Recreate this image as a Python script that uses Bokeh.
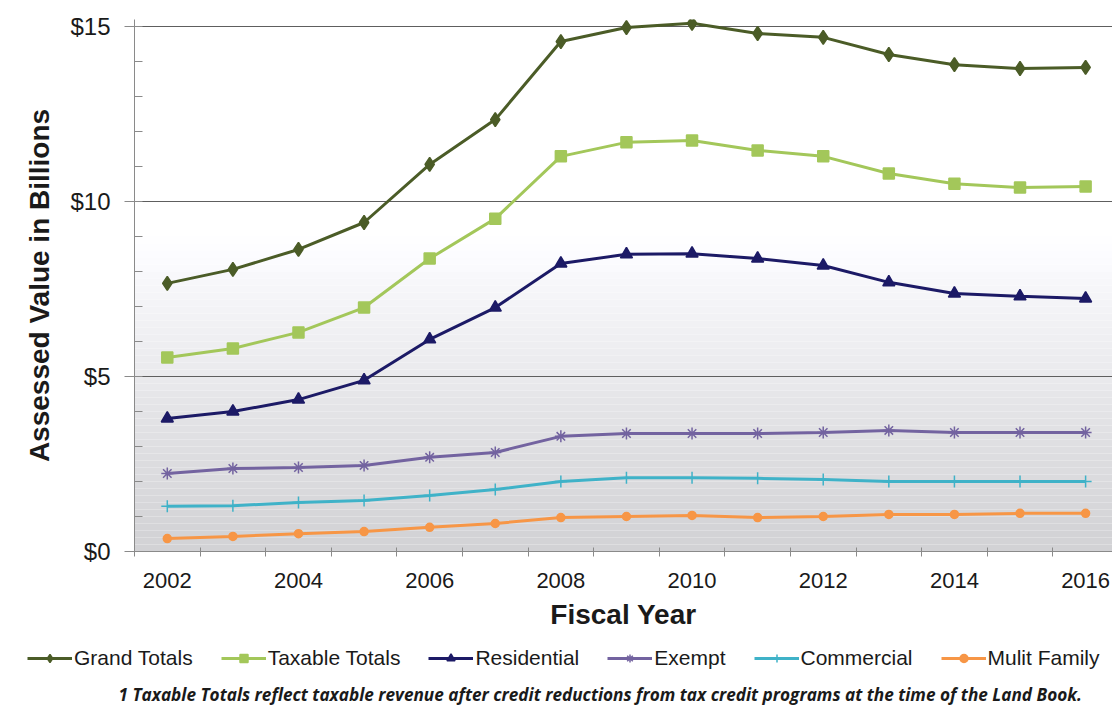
from bokeh.plotting import figure
from bokeh.layouts import column, row
from bokeh.models import (Range1d, FixedTicker, PrintfTickFormatter, Legend, LegendItem, Title)
from bokeh.embed import file_html
from bokeh.resources import INLINE

years = list(range(2002, 2017))
grand_totals = [7.66, 8.06, 8.63, 9.40, 11.06, 12.34, 14.57, 14.97, 15.09, 14.80, 14.69, 14.20, 13.91, 13.80, 13.83]
taxable_totals = [5.54, 5.80, 6.26, 6.97, 8.37, 9.51, 11.29, 11.69, 11.74, 11.46, 11.29, 10.80, 10.51, 10.40, 10.43]
residential = [3.80, 4.00, 4.34, 4.89, 6.06, 6.97, 8.23, 8.49, 8.51, 8.37, 8.17, 7.69, 7.37, 7.29, 7.23]
exempt = [2.23, 2.37, 2.40, 2.46, 2.69, 2.83, 3.29, 3.37, 3.37, 3.37, 3.40, 3.46, 3.40, 3.40, 3.40]
commercial = [1.29, 1.31, 1.40, 1.46, 1.60, 1.77, 2.00, 2.11, 2.11, 2.09, 2.06, 2.00, 2.00, 2.00, 2.00]
multi_family = [0.37, 0.43, 0.51, 0.57, 0.69, 0.80, 0.97, 1.00, 1.03, 0.97, 1.00, 1.06, 1.06, 1.09, 1.09]
series_names = ["Grand Totals", "Taxable Totals", "Residential", "Exempt", "Commercial", "Mulit Family"]
year_tick_labels = [2002, 2004, 2006, 2008, 2010, 2012, 2014, 2016]
value_ticks = [0, 5, 10, 15]
footnote = "1 Taxable Totals reflect taxable revenue after credit reductions from tax credit programs at the time of the Land Book."

FONT = "Liberation Sans"
W = 1112

p = figure(width=W, height=639, output_backend="svg", toolbar_location=None,
           x_range=Range1d(2001.5, 2016.41), y_range=Range1d(0, 15.2),
           min_border_left=134, min_border_top=19, min_border_right=0, min_border_bottom=88)
p.outline_line_color = None
p.background_fill_color = "white"

# background gradient (style only)
n_bands = 45
for i in range(n_bands):
    b = 9.0 * i / n_bands
    t = 9.0 * (i + 1) / n_bands
    f = (b + t) / 2 / 9.0
    g = int(210 + (255 - 210) * f ** 1.1)
    col = "#%02x%02x%02x" % (g, g, min(255, g + 3))
    p.quad(left=2001.5, right=2016.5, bottom=b, top=t, fill_color=col, line_color=None, level="image")

# axes
p.xaxis.ticker = FixedTicker(ticks=year_tick_labels, minor_ticks=[y - 0.5 for y in years] + [2016.5])
p.yaxis.ticker = FixedTicker(ticks=value_ticks, minor_ticks=list(range(0, 16)))
p.yaxis.formatter = PrintfTickFormatter(format="$%d")
for ax in (p.xaxis, p.yaxis):
    ax.axis_line_color = "#8a8a8a"
    ax.major_tick_line_color = "#8a8a8a"
    ax.minor_tick_line_color = "#8a8a8a"
    ax.major_label_text_font = FONT
    ax.major_label_text_color = "#1a1a1a"
    ax.axis_label_text_font = FONT
    ax.axis_label_text_font_style = "bold"
    ax.axis_label_text_color = "#1a1a1a"
    ax.axis_label_text_font_size = "28px"

p.xaxis.major_tick_in = 0
p.xaxis.major_tick_out = 0
p.xaxis.minor_tick_in = 4
p.xaxis.minor_tick_out = 5
p.xaxis.major_label_text_font_size = "22px"
p.xaxis.major_label_standoff = 16
p.xaxis.axis_label = "Fiscal Year"
p.xaxis.axis_label_standoff = 8

p.yaxis.major_tick_in = 0
p.yaxis.major_tick_out = 10
p.yaxis.minor_tick_in = 8
p.yaxis.minor_tick_out = 0
p.yaxis.major_label_text_font_size = "24px"
p.yaxis.major_label_standoff = 14
p.yaxis.axis_label = "Assessed Value in Billions"
p.yaxis.axis_label_standoff = 12

p.xgrid.grid_line_color = None
p.ygrid.ticker = FixedTicker(ticks=[5, 10, 15])
p.ygrid.grid_line_color = "#5e5e5e"
p.ygrid.grid_line_width = 1.2

series = [
    (grand_totals, "#4b5c27", "diamond", 14),
    (taxable_totals, "#a3c75a", "square", 11),
    (residential, "#1c1a66", "triangle", 12),
    (exempt, "#7363a0", "asterisk", 12),
    (commercial, "#3fb2c8", "cross", 12),
    (multi_family, "#f79646", "circle", 8),
]

# legend + footnote strip (its ranges keep the series out of view; only the legend shows)
q = figure(width=W, height=66, output_backend="svg", toolbar_location=None,
           x_range=Range1d(0, 1), y_range=Range1d(0, 1),
           min_border_left=0, min_border_right=0, min_border_top=0, min_border_bottom=0)
q.axis.visible = False
q.grid.visible = False
q.outline_line_color = None

items = []
for (vals, col, mk, sz), name in zip(series, series_names):
    p.line(years, vals, line_color=col, line_width=3)
    p.scatter(years, vals, marker=mk, size=sz, fill_color=col, line_color=col, line_width=1.5)
    l1 = q.line(years, vals, line_color=col, line_width=3)
    l2 = q.scatter(years, vals, marker=mk, size=sz, fill_color=col, line_color=col, line_width=1.5)
    items.append(LegendItem(label=name, renderers=[l1, l2]))

legend = Legend(items=items, orientation="horizontal", location=(27, 10),
                glyph_width=45, glyph_height=20, label_standoff=2, spacing=28,
                label_text_font=FONT, label_text_font_size="21px", label_text_color="#1a1a1a",
                border_line_color=None, background_fill_alpha=0, padding=4, margin=0)
q.add_layout(legend, "center")

note = Title(text=footnote, align="left", offset=118, text_font="Open Sans",
             text_font_style="bold italic", text_font_size="17.2px", text_color="#1a1a1a",
             standoff=0)
q.add_layout(note, "below")

open("out.html", "w").write(file_html(column(p, row(q), spacing=0), INLINE))
